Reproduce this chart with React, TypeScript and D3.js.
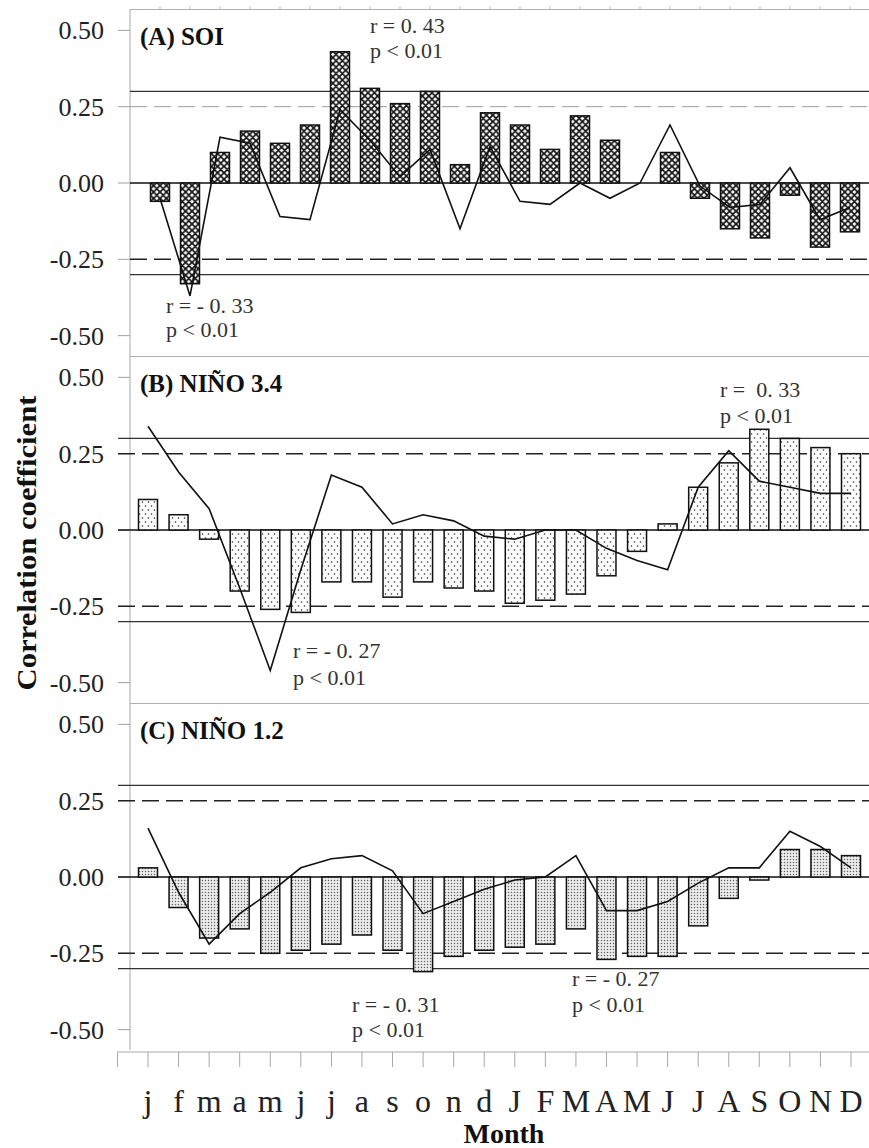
import React from "react";
import * as d3 from "d3";

// Month sequence: previous year (lower case) and current year (upper case)
const monthLabels = [
  "j", "f", "m", "a", "m", "j", "j", "a", "s", "o", "n", "d",
  "J", "F", "M", "A", "M", "J", "J", "A", "S", "O", "N", "D",
];

// (A) SOI
const soiBars = [-0.06, -0.33, 0.10, 0.17, 0.13, 0.19, 0.43, 0.31, 0.26, 0.30, 0.06, 0.23,
  0.19, 0.11, 0.22, 0.14, 0.0, 0.10, -0.05, -0.15, -0.18, -0.04, -0.21, -0.16];
const soiLine = [-0.05, -0.37, 0.15, 0.13, -0.11, -0.12, 0.24, 0.14, 0.02, 0.11, -0.15, 0.12,
  -0.06, -0.07, 0.0, -0.05, 0.0, 0.19, -0.01, -0.08, -0.07, 0.05, -0.12, -0.08];

// (B) NIÑO 3.4
const nino34Bars = [0.10, 0.05, -0.03, -0.20, -0.26, -0.27, -0.17, -0.17, -0.22, -0.17, -0.19, -0.20,
  -0.24, -0.23, -0.21, -0.15, -0.07, 0.02, 0.14, 0.22, 0.33, 0.30, 0.27, 0.25];
const nino34Line = [0.34, 0.19, 0.07, -0.19, -0.46, -0.13, 0.18, 0.14, 0.02, 0.05, 0.03, -0.02,
  -0.03, 0.0, 0.0, -0.06, -0.10, -0.13, 0.14, 0.26, 0.16, 0.14, 0.12, 0.12];

// (C) NIÑO 1.2
const nino12Bars = [0.03, -0.10, -0.20, -0.17, -0.25, -0.24, -0.22, -0.19, -0.24, -0.31, -0.26, -0.24,
  -0.23, -0.22, -0.17, -0.27, -0.26, -0.26, -0.16, -0.07, -0.01, 0.09, 0.09, 0.07];
const nino12Line = [0.16, -0.05, -0.22, -0.12, -0.05, 0.03, 0.06, 0.07, 0.02, -0.12, -0.08, -0.04,
  -0.01, 0.0, 0.07, -0.11, -0.11, -0.08, -0.02, 0.03, 0.03, 0.15, 0.10, 0.03];

const yTickValues = [0.5, 0.25, 0, -0.25, -0.5];
const yTickLabels = ["0.50", "0.25", "0.00", "-0.25", "-0.50"];
const solidLevels = [0.3, -0.3];
const dashedLevels = [0.25, -0.25];

const W = 869;
const H = 1148;
const SERIF = "'Liberation Serif', 'Times New Roman', serif";
const AXIS_X = 130;
const RIGHT = 869;
const PANEL_H = 347;
const FIRST_TOP = 9;

type Note = { x: number; dy: number; text: string };

const panels = [
  {
    title: "(A) SOI",
    bars: soiBars,
    line: soiLine,
    fill: "url(#hatchA)",
    xRange: [160, 850] as [number, number],
    refStart: 130,
    upperDashColor: "#9a9a9a",
    notes: [
      { x: 370, dy: -150, text: "r = 0. 43" },
      { x: 370, dy: -125, text: "p < 0.01" },
      { x: 166, dy: 130, text: "r = - 0. 33" },
      { x: 166, dy: 154, text: "p < 0.01" },
    ] as Note[],
  },
  {
    title: "(B) NIÑO 3.4",
    bars: nino34Bars,
    line: nino34Line,
    fill: "url(#dotsB)",
    xRange: [148, 851] as [number, number],
    refStart: 118,
    upperDashColor: "#222",
    notes: [
      { x: 720, dy: -133, text: "r =  0. 33" },
      { x: 720, dy: -107, text: "p < 0.01" },
      { x: 293, dy: 128, text: "r = - 0. 27" },
      { x: 293, dy: 155, text: "p < 0.01" },
    ] as Note[],
  },
  {
    title: "(C) NIÑO 1.2",
    bars: nino12Bars,
    line: nino12Line,
    fill: "url(#dotsC)",
    xRange: [148, 851] as [number, number],
    refStart: 118,
    upperDashColor: "#222",
    notes: [
      { x: 352, dy: 135, text: "r = - 0. 31" },
      { x: 352, dy: 160, text: "p < 0.01" },
      { x: 572, dy: 109, text: "r = - 0. 27" },
      { x: 572, dy: 135, text: "p < 0.01" },
    ] as Note[],
  },
];

const idx = d3.range(monthLabels.length);

function Panel({ p, k }: { p: (typeof panels)[number]; k: number }) {
  const top = FIRST_TOP + k * PANEL_H;
  const y = d3.scaleLinear().domain([-0.57, 0.57]).range([top + 348, top]);
  const x = d3.scalePoint<number>().domain(idx).range(p.xRange);
  const bw = 19;
  const zero = y(0);
  const path = d3
    .line<number>()
    .x((_, i) => x(i) as number)
    .y((v) => y(v))(p.line);

  return (
    <g>
      {/* frame line on top of the panel */}
      <line x1={AXIS_X} x2={RIGHT} y1={top + 0.5} y2={top + 0.5} stroke="#b0b0b0" strokeWidth={1} />
      {k === 0 &&
        idx.map((i) => (
          <line key={i} x1={x(i)} x2={x(i)} y1={top} y2={top - 3} stroke="#c0c0c0" strokeWidth={1} />
        ))}
      {/* y ticks and labels */}
      {yTickValues.map((v, i) => (
        <g key={v}>
          <line x1={118} x2={AXIS_X} y1={y(v)} y2={y(v)} stroke="#a0a0a0" strokeWidth={1} />
          <text
            x={104}
            y={y(v)}
            dy="0.35em"
            textAnchor="end"
            fontFamily={SERIF}
            fontSize={26}
            fill="#222"
          >
            {yTickLabels[i]}
          </text>
        </g>
      ))}
      {/* significance levels */}
      {solidLevels.map((v) => (
        <line key={v} x1={p.refStart} x2={RIGHT} y1={y(v)} y2={y(v)} stroke="#333" strokeWidth={1.4} />
      ))}
      {dashedLevels.map((v) => (
        <line
          key={v}
          x1={p.refStart}
          x2={RIGHT}
          y1={y(v)}
          y2={y(v)}
          stroke={v > 0 ? p.upperDashColor : "#222"}
          strokeWidth={v > 0 && k === 0 ? 1 : 1.4}
          strokeDasharray="17 7"
        />
      ))}
      <line x1={p.refStart} x2={RIGHT} y1={zero} y2={zero} stroke="#111" strokeWidth={1.6} />
      {/* bars */}
      {p.bars.map((v, i) => (
        <rect
          key={i}
          x={(x(i) as number) - bw / 2}
          y={Math.min(y(v), zero)}
          width={bw}
          height={Math.abs(y(v) - zero)}
          fill={p.fill}
          stroke="#111"
          strokeWidth={1.5}
        />
      ))}
      {/* lagged series */}
      <path d={path || ""} fill="none" stroke="#111" strokeWidth={1.6} strokeLinejoin="miter" />
      <text x={140} y={zero - 138} fontFamily={SERIF} fontWeight="bold" fontSize={25} fill="#111">
        {p.title}
      </text>
      {p.notes.map((n, i) => (
        <text
          key={i}
          x={n.x}
          y={zero + n.dy}
          fontFamily={SERIF}
          fontSize={22}
          fill="#333"
          style={{ whiteSpace: "pre" }}
        >
          {n.text}
        </text>
      ))}
    </g>
  );
}

export default function App() {
  const xBottom = d3.scalePoint<number>().domain(idx).range([148, 851]);
  const step = xBottom.step();
  const axisY = 1052;
  const tickXs = [148 - step, ...idx.map((i) => xBottom(i) as number)];

  return (
    <svg
      width={W}
      height={H}
      viewBox={`0 0 ${W} ${H}`}
      style={{ position: "absolute", left: 0, top: 0, background: "#fff" }}
    >
      <defs>
        <pattern id="hatchA" width={6.4} height={6.4} patternUnits="userSpaceOnUse">
          <rect width={6.4} height={6.4} fill="#fff" />
          <path
            d="M0,0L6.4,6.4M-3.2,3.2L3.2,9.6M3.2,-3.2L9.6,3.2M0,6.4L6.4,0M-3.2,3.2L3.2,-3.2M3.2,9.6L9.6,3.2"
            stroke="#111"
            strokeWidth={1.7}
          />
        </pattern>
        <pattern id="dotsB" width={6} height={8} patternUnits="userSpaceOnUse">
          <rect width={6} height={8} fill="#fbfbfb" />
          <circle cx={1.5} cy={2} r={0.8} fill="#333" />
          <circle cx={4.5} cy={6} r={0.8} fill="#333" />
        </pattern>
        <pattern id="dotsC" width={3} height={3} patternUnits="userSpaceOnUse">
          <rect width={3} height={3} fill="#ececec" />
          <circle cx={1.5} cy={1.5} r={0.75} fill="#666" />
        </pattern>
      </defs>

      {/* vertical axis */}
      <line x1={AXIS_X} x2={AXIS_X} y1={FIRST_TOP} y2={axisY - 2} stroke="#a8a8a8" strokeWidth={1} />

      {panels.map((p, k) => (
        <Panel key={k} p={p} k={k} />
      ))}

      {/* month axis */}
      <line x1={117} x2={RIGHT} y1={axisY} y2={axisY} stroke="#a8a8a8" strokeWidth={1} />
      {tickXs.map((tx, i) => (
        <line key={i} x1={tx} x2={tx} y1={axisY} y2={axisY + 15} stroke="#a8a8a8" strokeWidth={1} />
      ))}
      {idx.map((i) => (
        <text
          key={i}
          x={xBottom(i)}
          y={1112}
          textAnchor="middle"
          fontFamily={SERIF}
          fontSize={32}
          fill="#222"
        >
          {monthLabels[i]}
        </text>
      ))}
      <text x={504} y={1143} textAnchor="middle" fontFamily={SERIF} fontWeight="bold" fontSize={28} fill="#111">
        Month
      </text>
      <text
        transform="translate(36,543) rotate(-90)"
        textAnchor="middle"
        fontFamily={SERIF}
        fontWeight="bold"
        fontSize={27}
        fill="#111"
        textLength={295}
        lengthAdjust="spacingAndGlyphs"
      >
        Correlation coefficient
      </text>
    </svg>
  );
}
